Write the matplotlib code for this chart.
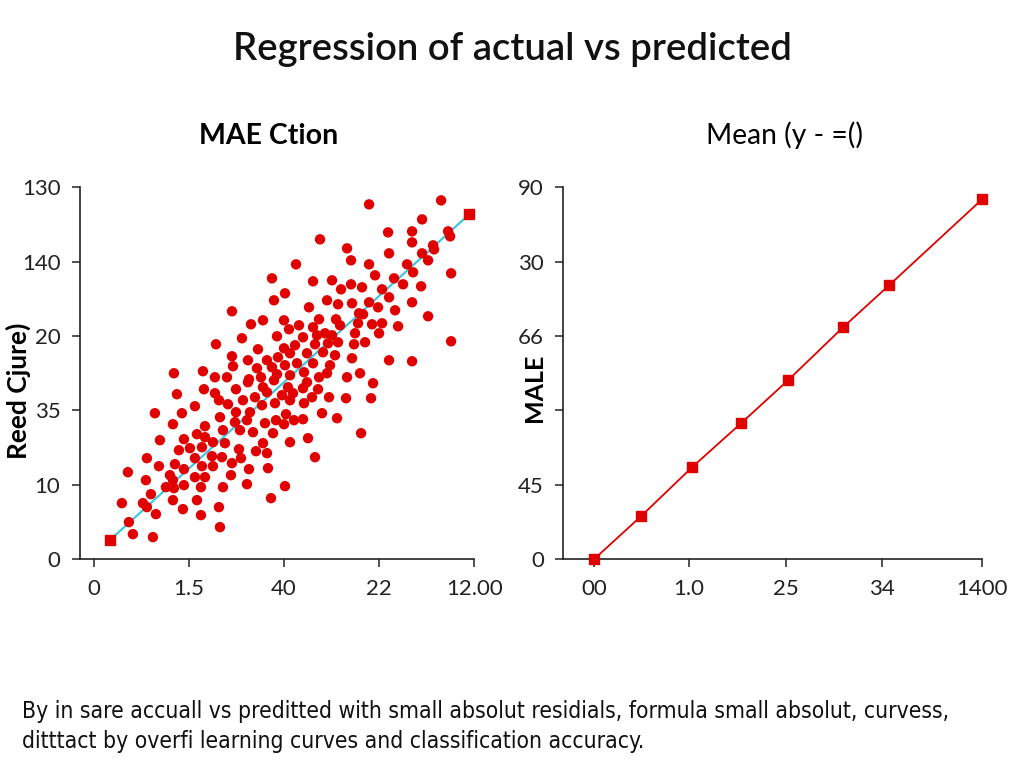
import matplotlib
matplotlib.use("Agg")
import matplotlib.pyplot as plt

# left panel: actual vs predicted (axis units, ticks every 95 / 74.4)
actual = [178, 180, 138, 169, 157, 148, 183, 122, 164, 138, 154, 139, 173, 80, 109, 121, 133, 163,
          191, 190, 195, 205, 190, 201, 184, 196, 178, 191, 203, 155, 167, 183, 196,
          275, 347, 328, 294, 318, 318, 354, 356, 226, 253, 339, 340, 295, 328, 334, 257, 202,
          275, 313, 319, 357, 281, 300, 219, 238, 309, 327, 247, 257, 268, 288, 295, 233, 244,
          258, 275, 284, 318, 215, 301, 265, 269, 334, 225, 242, 219, 246, 264, 278, 288, 304,
          209, 223, 231, 238, 261, 285, 357, 221, 244, 260, 271, 213, 229, 241, 258, 295, 318,
          219, 236, 266, 253, 225, 234, 233, 210,
          83, 110, 121, 142, 154, 180, 125, 134, 149, 161, 173, 61, 88, 101, 142, 156, 168, 181,
          79, 111, 126, 141, 153, 171, 182, 103, 111, 129, 146, 159, 179, 66, 90, 119, 131, 169,
          85, 96, 108, 145, 162, 173, 53, 101, 118, 128, 147, 65, 81, 90, 108, 119, 138, 155, 174,
          34, 52, 76, 79, 101, 111, 137, 90, 107, 129, 153, 72, 57, 80, 79, 103, 28, 49, 53, 89,
          125, 177, 62, 107, 35, 126, 39, 59,
          213, 279, 209, 224, 196, 210, 218, 235, 252, 277, 192, 200, 209, 228, 243, 190, 196,
          214, 267, 221, 191, 169, 194, 188, 199]
predicted = [281, 259, 248, 239, 235, 221, 223, 215, 210, 203, 199, 193, 199, 186, 188, 182, 182, 191,
             266, 239, 230, 234, 211, 214, 202, 206, 192, 194, 196, 180, 182, 185, 184,
             355, 359, 340, 327, 328, 317, 328, 323, 320, 311, 314, 310, 306, 306, 299, 299, 295,
             295, 295, 287, 286, 284, 281, 278, 279, 275, 273, 270, 275, 272, 270, 262, 259, 255,
             256, 257, 252, 257, 252, 249, 246, 245, 243, 240, 240, 232, 234, 236, 235, 236, 233,
             222, 224, 226, 224, 226, 226, 218, 215, 217, 215, 217, 206, 207, 204, 201, 199, 198,
             196, 194, 186, 182, 182, 216, 186, 187,
             165, 170, 166, 170, 177, 179, 159, 155, 159, 162, 167, 146, 146, 153, 147, 147, 154, 156,
             135, 133, 142, 137, 139, 136, 139, 125, 122, 129, 129, 127, 126, 119, 120, 117, 116, 116,
             109, 111, 112, 110, 108, 106, 101, 101, 103, 102, 101, 93, 95, 90, 93, 93, 96, 90, 91,
             87, 79, 84, 79, 82, 82, 84, 74, 72, 72, 75, 72, 65, 71, 59, 59, 56, 56, 52, 50,
             52, 61, 45, 44, 37, 32, 25, 22,
             177, 176, 171, 170, 159, 156, 162, 162, 161, 161, 145, 139, 140, 146, 141, 135, 117,
             121, 126, 102, 73, 172, 172, 164, 166]
fit_x = [16, 375]
fit_y = [19, 345]

# right panel
mae_x = [0, 47, 98, 147, 194, 249, 295, 388]
mae_y = [0, 43, 92, 136, 179, 232, 274, 360]

left_xticks = [0, 95, 190, 285, 380]
left_xlabels = ["0", "1.5", "40", "22", "12.00"]
left_yticks = [0, 74.4, 148.8, 223.2, 297.6, 372]
left_ylabels = ["0", "10", "35", "20", "140", "130"]
right_xticks = [0, 95, 192, 288, 388]
right_xlabels = ["00", "1.0", "25", "34", "1400"]
right_yticks = [0, 74.4, 148.8, 223.2, 297.6, 372]
right_ylabels = ["0", "45", "", "66", "30", "90"]

red = "#e00000"
cyan = "#3cc8e0"

plt.rcParams["font.family"] = ["Lato", "DejaVu Sans"]

fig = plt.figure(figsize=(10.24, 7.68), dpi=100)
fig.text(0.5, 0.936, "Regression of actual vs predicted", ha="center", va="center",
         fontsize=27.5, fontweight="semibold", color="#111111")

ax1 = fig.add_axes([0.078, 0.272, 0.385, 0.484])
ax1.scatter(actual, predicted, s=56, color=red, edgecolors="none", zorder=3)
ax1.plot(fit_x, fit_y, color=cyan, lw=1.6, zorder=2)
ax1.plot(fit_x, fit_y, ls="none", marker="s", ms=7, color=red, zorder=4, clip_on=False)
ax1.set_xlim(-14, 380)
ax1.set_ylim(0, 372)
ax1.set_xticks(left_xticks)
ax1.set_xticklabels(left_xlabels)
ax1.set_yticks(left_yticks)
ax1.set_yticklabels(left_ylabels)
ax1.set_title("MAE Ction", fontsize=20.5, fontweight="bold", pad=31, x=0.48)
ax1.set_ylabel("Reed Cjure)", fontsize=19, fontweight="bold")
ax1.yaxis.set_label_coords(-0.124, 0.454)

ax2 = fig.add_axes([0.550, 0.272, 0.409, 0.484])
ax2.plot(mae_x, mae_y, color=red, lw=1.3, marker="s", ms=7, zorder=3, clip_on=False)
ax2.set_xlim(-31, 388)
ax2.set_ylim(0, 372)
ax2.set_xticks(right_xticks)
ax2.set_xticklabels(right_xlabels)
ax2.set_yticks(right_yticks)
ax2.set_yticklabels(right_ylabels)
ax2.set_title("Mean (y - =()", fontsize=20.3, pad=31, x=0.528)
ax2.set_ylabel("MALE", fontsize=18, fontweight="bold")
ax2.yaxis.set_label_coords(-0.04, 0.46)

for ax in (ax1, ax2):
    for side in ("top", "right"):
        ax.spines[side].set_visible(False)
    for side in ("left", "bottom"):
        ax.spines[side].set_linewidth(1.2)
        ax.spines[side].set_color("#222222")
    ax.tick_params(direction="out", length=6, width=1.1, labelsize=16, colors="#222222", pad=8)

fig.text(0.021, 0.054, "By in sare accuall vs preditted with small absolut residials, formula small absolut, curvess,\n"
         "ditttact by overfi learning curves and classification accuracy.",
         ha="left", va="center", fontsize=16.4, linespacing=1.4, color="#111111",
         family=["DejaVu Sans"], fontstretch="condensed")

fig.savefig("out.png", dpi=100)
